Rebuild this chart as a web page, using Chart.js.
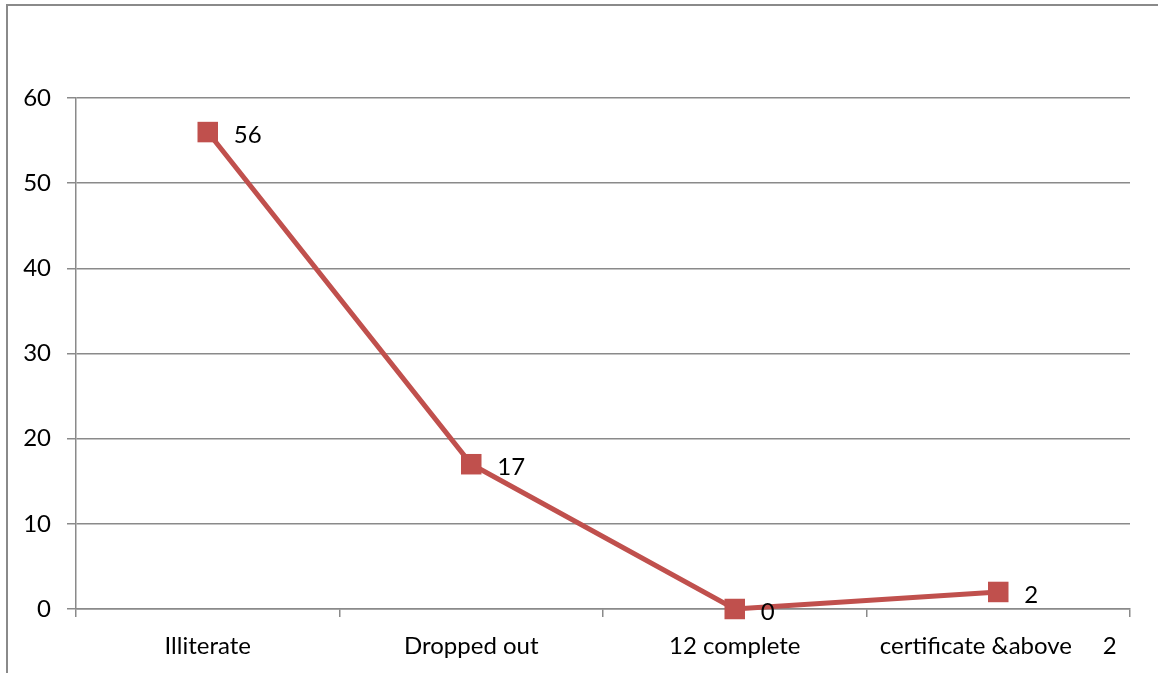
<!DOCTYPE html>
<html>
<head>
<meta charset="utf-8">
<script src="https://cdn.jsdelivr.net/npm/chart.js@4/dist/chart.umd.min.js"></script>
<style>
  html, body { margin: 0; padding: 0; background: #fff; }
  #wrap { position: relative; width: 1158px; height: 673px; overflow: hidden; }
  #frame {
    position: absolute; left: 6px; top: 4px; width: 1200px; height: 720px;
    border-left: 2px solid #8a8a8a; border-top: 2px solid #8a8a8a;
    box-sizing: border-box;
  }
  canvas { position: absolute; left: 0; top: 0; }
</style>
</head>
<body>
<div id="wrap">
  <div id="frame"></div>
  <canvas id="c" width="1158" height="673"></canvas>
</div>
<script>
const categories = ['Illiterate', 'Dropped out', '12 complete', 'certificate &above     2'];
const values = [56, 17, 0, 2];
const yTicks = [0, 10, 20, 30, 40, 50, 60];

const FONT = "Lato, 'Open Sans', sans-serif";
const FONT_SIZE = 24;
const RED = '#C0504D';

// Writes each point's value just to the right of its marker
const valueLabels = {
  id: 'valueLabels',
  afterDatasetsDraw(chart) {
    const ctx = chart.ctx;
    const meta = chart.getDatasetMeta(0);
    ctx.save();
    ctx.font = FONT_SIZE + 'px ' + FONT;
    ctx.fillStyle = '#000';
    ctx.textAlign = 'left';
    ctx.textBaseline = 'middle';
    meta.data.forEach((pt, i) => {
      ctx.fillText(String(values[i]), pt.x + 26, pt.y + 3);
    });
    ctx.restore();
  }
};

new Chart(document.getElementById('c'), {
  type: 'line',
  data: {
    labels: categories,
    datasets: [{
      data: values,
      borderColor: RED,
      borderWidth: 5,
      backgroundColor: RED,
      pointStyle: 'rect',
      pointRadius: 14.5,
      pointHoverRadius: 14.5,
      pointBorderWidth: 0,
      pointBackgroundColor: RED,
      tension: 0,
      clip: false
    }]
  },
  options: {
    responsive: false,
    animation: false,
    devicePixelRatio: 1,
    layout: { padding: { left: 0, top: 98, right: 28, bottom: 0 } },
    plugins: { legend: { display: false }, tooltip: { enabled: false } },
    scales: {
      x: {
        offset: true,
        grid: {
          offset: true,
          drawOnChartArea: false,
          drawTicks: true,
          tickLength: 8,
          color: '#8a8a8a',
          lineWidth: 1.5
        },
        border: { color: '#8a8a8a', width: 1.5 },
        ticks: {
          color: '#000',
          font: { family: FONT, size: FONT_SIZE },
          padding: 15,
          maxRotation: 0,
          autoSkip: false
        },
        afterFit(scale) { scale.height = 64; }
      },
      y: {
        min: 0,
        max: 60,
        afterBuildTicks(scale) { scale.ticks = yTicks.map(v => ({ value: v })); },
        grid: {
          color: '#8a8a8a',
          lineWidth: 1.5,
          tickLength: 9
        },
        border: { color: '#8a8a8a', width: 1.5 },
        ticks: {
          color: '#000',
          font: { family: FONT, size: FONT_SIZE },
          padding: 16
        },
        afterFit(scale) { scale.width = 76; }
      }
    }
  },
  plugins: [valueLabels]
});
</script>
</body>
</html>
